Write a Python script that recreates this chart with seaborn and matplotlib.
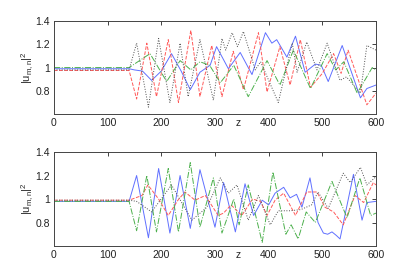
import pandas as pd
import matplotlib
matplotlib.use('Agg')
import matplotlib.pyplot as plt
import seaborn as sns

# --- values (z, |u|^2) ---
# top panel
top_blue_z = [0, 140, 150, 165, 182, 200, 219, 237, 254, 272, 291, 303, 325, 347, 369, 394, 406, 415, 434, 450, 468, 487, 498, 511, 537, 571, 583, 600]
top_blue_v = [0.99, 0.99, 0.98, 0.97, 0.89, 0.97, 1.12, 0.97, 0.81, 0.96, 1.02, 1.18, 0.99, 1.13, 0.94, 1.30, 1.21, 1.24, 1.09, 1.27, 0.96, 1.03, 1.02, 0.88, 1.19, 0.74, 0.82, 0.85]

top_red_z = [0, 140, 154, 173, 191, 213, 232, 255, 272, 294, 313, 334, 353, 381, 397, 421, 440, 459, 478, 500, 521, 535, 548, 583, 600]
top_red_v = [0.975, 0.975, 0.73, 1.21, 0.75, 1.24, 0.70, 1.32, 0.75, 1.19, 0.75, 1.14, 0.81, 1.30, 0.79, 1.18, 0.85, 1.24, 0.83, 0.95, 1.12, 0.95, 1.15, 0.68, 0.78]

top_green_z = [0, 140, 179, 210, 235, 255, 272, 290, 310, 335, 362, 397, 421, 446, 478, 509, 525, 540, 565, 593, 600]
top_green_v = [1.0, 1.0, 1.12, 0.88, 1.06, 0.98, 1.05, 1.02, 0.87, 1.02, 0.75, 1.06, 0.85, 1.15, 0.82, 1.12, 0.98, 1.05, 0.78, 1.0, 0.98]

top_black_z = [0, 140, 154, 176, 195, 216, 235, 250, 272, 297, 313, 320, 332, 342, 353, 375, 385, 418, 444, 453, 471, 490, 509, 533, 545, 571, 583, 600]
top_black_v = [0.98, 0.98, 1.21, 0.66, 1.25, 0.70, 1.21, 0.75, 1.24, 0.72, 1.25, 1.15, 1.30, 1.18, 1.31, 0.98, 1.05, 0.70, 1.21, 0.96, 1.22, 0.98, 1.21, 0.89, 0.92, 0.78, 1.19, 1.15]

# bottom panel
bot_blue_z = [0, 140, 154, 176, 195, 216, 235, 254, 272, 300, 316, 338, 356, 372, 388, 400, 412, 428, 440, 452, 462, 477, 492, 502, 510, 518, 526, 533, 558, 574, 583, 600]
bot_blue_v = [0.98, 0.98, 1.20, 0.67, 1.26, 0.71, 1.20, 0.75, 1.25, 0.76, 1.14, 0.72, 1.13, 0.86, 0.99, 0.95, 1.05, 1.10, 1.01, 1.04, 0.93, 1.18, 0.80, 0.71, 0.70, 0.72, 0.69, 0.66, 1.21, 0.82, 0.97, 0.98]

bot_red_z = [0, 140, 164, 175, 195, 213, 231, 244, 263, 282, 306, 316, 330, 350, 370, 385, 397, 412, 428, 450, 471, 490, 505, 521, 539, 561, 577, 595, 600]
bot_red_v = [0.99, 0.99, 1.03, 1.12, 1.0, 0.86, 0.99, 1.06, 0.99, 1.03, 0.86, 0.88, 0.95, 0.86, 1.0, 0.98, 0.86, 0.99, 1.05, 0.86, 1.06, 1.06, 0.93, 0.89, 0.78, 1.03, 0.97, 1.14, 1.12]

bot_green_z = [0, 140, 154, 173, 191, 213, 232, 254, 272, 297, 313, 335, 345, 362, 388, 408, 432, 442, 455, 470, 487, 518, 546, 570, 590, 600]
bot_green_v = [0.98, 0.98, 0.73, 1.20, 0.72, 1.26, 0.72, 1.31, 0.76, 1.18, 0.71, 1.0, 0.78, 1.12, 0.63, 1.23, 0.70, 0.78, 0.66, 0.89, 0.80, 1.15, 0.84, 1.18, 0.86, 0.88]

bot_black_z = [0, 140, 154, 182, 219, 257, 285, 310, 325, 341, 362, 381, 403, 418, 440, 460, 480, 492, 511, 539, 552, 571, 583, 600]
bot_black_v = [0.99, 0.99, 0.98, 0.89, 1.12, 0.82, 0.93, 1.18, 1.05, 1.12, 0.82, 1.03, 0.78, 0.90, 0.90, 0.91, 0.95, 1.06, 0.92, 1.22, 1.14, 1.27, 1.12, 1.19]

x_ticks = [0, 100, 200, 300, 400, 500, 600]
y_ticks = [0.8, 1, 1.2, 1.4]
y_ticklabels = ['0.8', '1', '1.2', '1.4']

sns.set_style('white')
plt.rcParams['font.family'] = ['Liberation Sans', 'DejaVu Sans']
plt.rcParams['mathtext.fontset'] = 'custom'
plt.rcParams['mathtext.rm'] = 'Liberation Sans'

fig = plt.figure(figsize=(4.15, 2.77), dpi=100)
ax_top = fig.add_axes([0.130, 0.588, 0.776, 0.336])
ax_bot = fig.add_axes([0.130, 0.112, 0.776, 0.339])

styles = [('#6070ff', '-'), ('#ff5a5a', '--'), ('#4cb04c', '-.'), ('#505050', ':')]

panels = [
    (ax_top, [(top_blue_z, top_blue_v), (top_red_z, top_red_v),
              (top_green_z, top_green_v), (top_black_z, top_black_v)]),
    (ax_bot, [(bot_blue_z, bot_blue_v), (bot_red_z, bot_red_v),
              (bot_green_z, bot_green_v), (bot_black_z, bot_black_v)]),
]

for ax, series in panels:
    for (zz, vv), (col, ls) in zip(series, styles):
        df = pd.DataFrame({'z': zz, 'u': vv})
        sns.lineplot(data=df, x='z', y='u', ax=ax, color=col, linestyle=ls,
                     linewidth=0.7, estimator=None, sort=False)
    ax.set_xlim(0, 600)
    ax.set_ylim(0.6, 1.4)
    ax.set_xticks(x_ticks)
    ax.set_yticks(y_ticks)
    ax.set_yticklabels(y_ticklabels)
    ax.tick_params(direction='in', length=3, width=0.6, labelsize=7.5,
                   top=True, right=True, pad=3, colors='#222222')
    for sp in ax.spines.values():
        sp.set_linewidth(0.7)
        sp.set_color('#444444')
    ax.set_xlabel('z', fontsize=7.5)
    ax.xaxis.set_label_coords(0.571, -0.04)
    ax.set_ylabel(r'$|\mathrm{u}_{\mathrm{m,n}}|^2$', fontsize=8)
    ax.yaxis.set_label_coords(-0.055, 0.5)

fig.savefig('out.png', dpi=100, facecolor='white')
